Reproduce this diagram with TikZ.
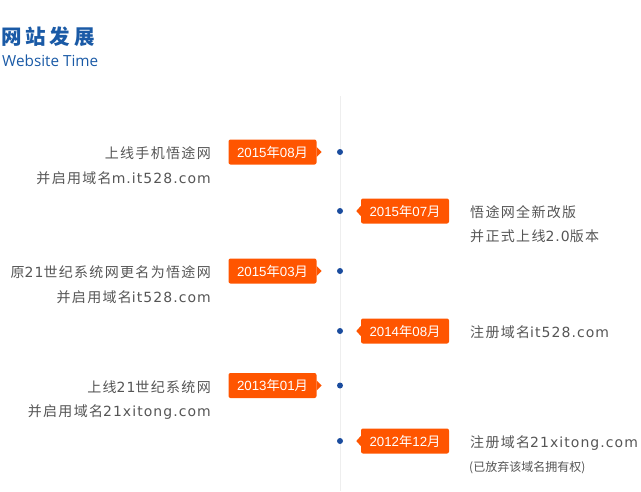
\documentclass[tikz,border=0pt]{standalone}
\usepackage{fontspec}
\setmainfont{DejaVu Sans}[LetterSpace=7.5]
\newfontfamily\cjk{Noto Sans CJK SC}[LetterSpace=9.5]
\newfontfamily\cjkplain{Noto Sans CJK SC}
\newfontfamily\titlecjk{Noto Sans CJK SC}[LetterSpace=19]
\newfontfamily\datefont{Liberation Sans}
\newfontfamily\titlefont{Open Sans}

\definecolor{dateorange}{HTML}{FF5500}
\definecolor{dotblue}{HTML}{1A4C9E}
\definecolor{titleblue}{HTML}{1A5AA6}
\definecolor{textgray}{HTML}{555555}
\definecolor{linegray}{HTML}{EEEEEE}

% chinese run inside latin text, and a date label
\newcommand{\zh}[1]{{\cjk #1}}
\newcommand{\ym}[2]{{\datefont #1}{\cjkplain 年}{\datefont #2}{\cjkplain 月}}

\begin{document}
\begin{tikzpicture}[x=1pt, y=-1pt,
    datebox/.style={fill=dateorange, text=white, rounded corners=2pt,
        minimum width=88pt, minimum height=25pt, inner sep=0pt,
        font=\fontsize{13.3}{15}\selectfont},
    tldot/.style={circle, fill=dotblue, inner sep=0pt, minimum size=6pt},
    lefttext/.style={anchor=base east, inner sep=0pt, text=textgray,
        font=\fontsize{14}{16}\selectfont},
    righttext/.style={anchor=base west, inner sep=0pt, text=textgray,
        font=\fontsize{14}{16}\selectfont}]

    \useasboundingbox (0,0) rectangle (641,491);

    % heading
    \node[anchor=west, inner sep=0pt, text=titleblue, font=\fontsize{20.5}{22}\selectfont\titlecjk\bfseries]
        (title) at (1,37) {网站发展};
    \node[anchor=west, inner sep=0pt, text=titleblue, font=\fontsize{15.3}{17}\selectfont\titlefont]
        (subtitle) at (2,61) {Website Time};

    % time line
    \coordinate (top) at (340,96);
    \coordinate (bottom) at (340,491);
    \draw[linegray, line width=1pt] (top) -- (bottom);

    % dots
    \foreach \i/\y in {1/152, 2/211, 3/271, 4/331, 5/385.5, 6/441} {
        \node[tldot] (p\i) at (340,\y) {};
    }

    % dates on the left
    \foreach \i/\y/\yr/\mo in {1/152/2015/08, 3/271/2015/03, 5/385.5/2013/01} {
        \node[datebox] (d\i) at (272.5,\y) {\ym{\yr}{\mo}};
        \fill[dateorange] (d\i.east) ++(0,-5) -- ++(5,5) -- ++(-5,5) -- cycle;
    }

    % dates on the right
    \foreach \i/\y/\yr/\mo in {2/211/2015/07, 4/331/2014/08, 6/441/2012/12} {
        \node[datebox] (d\i) at (405,\y) {\ym{\yr}{\mo}};
        \fill[dateorange] (d\i.west) ++(0,-5) -- ++(-4.5,5) -- ++(4.5,5) -- cycle;
    }

    % texts
    \node[lefttext] (t1a) at (211,158.5) {\zh{上线手机悟途网}};
    \node[lefttext] (t1b) at (211,183) {\zh{并启用域名}m.it528.com};

    \node[righttext] (t2a) at (470,217.5) {\zh{悟途网全新改版}};
    \node[righttext] (t2b) at (470,241.5) {\zh{并正式上线}2.0\zh{版本}};

    \node[lefttext] (t3a) at (211,277.5) {\zh{原}21\zh{世纪系统网更名为悟途网}};
    \node[lefttext] (t3b) at (211,302) {\zh{并启用域名}it528.com};

    \node[righttext] (t4a) at (470,337.5) {\zh{注册域名}it528.com};

    \node[lefttext] (t5a) at (211,392) {\zh{上线}21\zh{世纪系统网}};
    \node[lefttext] (t5b) at (211,416.5) {\zh{并启用域名}21xitong.com};

    \node[righttext] (t6a) at (470,447.5) {\zh{注册域名}21xitong.com};
    \node[righttext, font=\fontsize{12}{14}\selectfont\cjkplain] (t6b) at (469,471.5) {(已放弃该域名拥有权)};
\end{tikzpicture}
\end{document}
